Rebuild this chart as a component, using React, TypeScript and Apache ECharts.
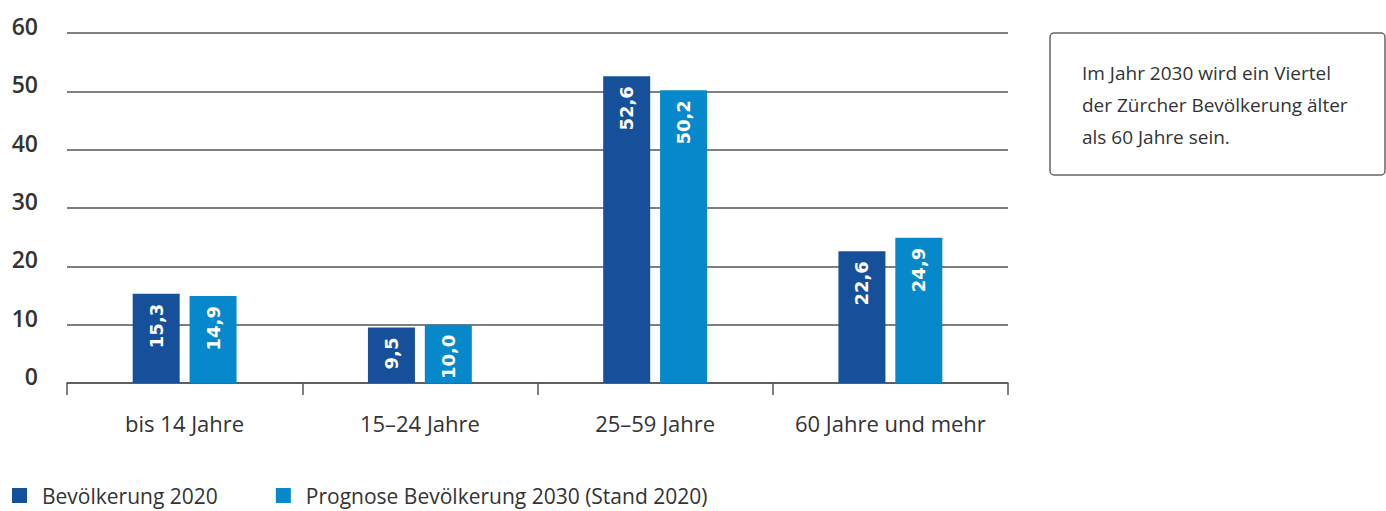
import React, { useEffect, useRef } from "react";
import * as echarts from "echarts";

const categories = ["bis 14 Jahre", "15–24 Jahre", "25–59 Jahre", "60 Jahre und mehr"];
const series2020 = [15.3, 9.5, 52.6, 22.6];
const series2030 = [14.9, 10.0, 50.2, 24.9];
const seriesNames = ["Bevölkerung 2020", "Prognose Bevölkerung 2030 (Stand 2020)"];
const noteLines = [
  "Im Jahr 2030 wird ein Viertel",
  "der Zürcher Bevölkerung älter",
  "als 60 Jahre sein.",
];

const FONT = "'Open Sans', 'Noto Sans', sans-serif";
const DARK = "#17509a";
const LIGHT = "#0788cb";
const TEXT = "#333333";
const LINE = "#555555";

export default function App() {
  const ref = useRef<HTMLDivElement>(null);
  useEffect(() => {
    if (!ref.current) return;
    const chart = echarts.init(ref.current, undefined, { renderer: "svg" });
    const label = {
      show: true,
      position: "insideTop",
      rotate: 90,
      align: "right",
      verticalAlign: "middle",
      distance: 10,
      color: "#ffffff",
      fontFamily: "'DejaVu Sans', sans-serif",
      fontWeight: "bold",
      fontSize: 18,
      formatter: (p: any) => Number(p.value).toFixed(1).replace(".", ","),
    };
    chart.setOption({
      animation: false,
      textStyle: { fontFamily: FONT },
      grid: { left: 67, right: 378, top: 33, bottom: 128 },
      legend: {
        left: 12,
        top: 485,
        padding: 0,
        icon: "rect",
        itemWidth: 15,
        itemHeight: 15,
        itemGap: 58,
        textStyle: {
          fontFamily: FONT,
          fontSize: 21,
          lineHeight: 21,
          color: TEXT,
          padding: [0, 0, 0, 10],
        },
        data: seriesNames,
      },
      xAxis: {
        type: "category",
        data: categories,
        axisLine: { lineStyle: { color: LINE, width: 1.5 } },
        axisTick: { show: true, interval: 0, length: 12, lineStyle: { color: LINE, width: 1.5 } },
        axisLabel: { interval: 0, margin: 29, fontSize: 22, color: TEXT, fontFamily: FONT },
      },
      yAxis: {
        type: "value",
        min: 0,
        max: 60,
        interval: 10,
        axisLine: { show: false },
        axisTick: { show: false },
        axisLabel: {
          margin: 29,
          fontSize: 23,
          lineHeight: 14,
          color: TEXT,
          fontFamily: FONT,
          fontWeight: 600,
          verticalAlign: "bottom",
        },
        splitLine: { lineStyle: { color: LINE, width: 1.5 } },
      },
      series: [
        {
          name: seriesNames[0],
          type: "bar",
          data: series2020,
          barWidth: 47,
          barGap: "21%",
          itemStyle: { color: DARK },
          label,
        },
        {
          name: seriesNames[1],
          type: "bar",
          data: series2030,
          barWidth: 47,
          itemStyle: { color: LIGHT },
          label,
        },
      ],
      graphic: [
        {
          type: "rect",
          shape: { x: 1050, y: 33, width: 335, height: 142, r: 4 },
          style: { fill: "#ffffff", stroke: "#666666", lineWidth: 1.5 },
        },
        ...noteLines.map((t, i) => ({
          type: "text",
          x: 1082,
          y: 73 + i * 32,
          style: {
            text: t,
            fontFamily: FONT,
            fontSize: 19,
            fontWeight: 500,
            fill: TEXT,
            verticalAlign: "middle",
          },
        })),
      ],
    });
    return () => chart.dispose();
  }, []);
  return (
    <div
      ref={ref}
      style={{ position: "fixed", left: 0, top: 0, width: 1386, height: 511, background: "#fff" }}
    />
  );
}
